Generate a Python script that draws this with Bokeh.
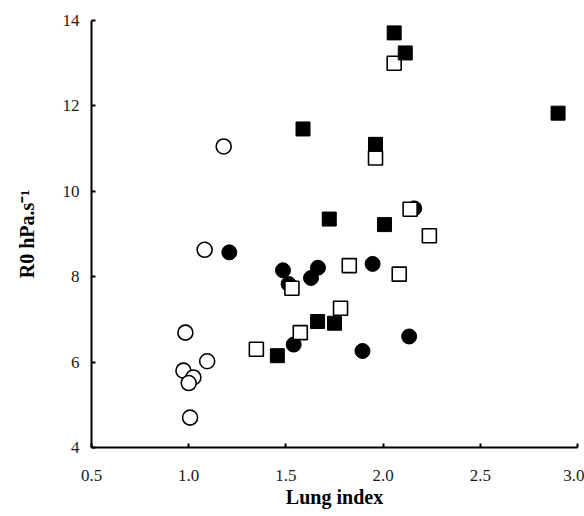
from bokeh.plotting import figure
from bokeh.embed import file_html
from bokeh.resources import INLINE
from bokeh.models import Range1d, FixedTicker

# Data
open_circle_x = [1.082, 1.180, 0.983, 1.095, 0.973, 1.024, 1.000, 1.007]
open_circle_y = [8.63, 11.05, 6.69, 6.02, 5.80, 5.64, 5.51, 4.70]

filled_circle_x = [1.209, 1.485, 1.665, 1.629, 1.514, 1.946, 2.160, 1.540, 1.894, 2.134]
filled_circle_y = [8.57, 8.15, 8.21, 7.97, 7.83, 8.30, 9.60, 6.41, 6.26, 6.60]

open_square_x = [2.057, 1.961, 2.139, 2.238, 1.531, 1.826, 2.083, 1.781, 1.574, 1.348]
open_square_y = [13.00, 10.78, 9.58, 8.96, 7.73, 8.26, 8.06, 7.26, 6.69, 6.30]

filled_square_x = [2.057, 2.114, 1.588, 2.900, 1.961, 1.723, 2.007, 1.663, 1.750, 1.456]
filled_square_y = [13.71, 13.24, 11.46, 11.83, 11.10, 9.35, 9.22, 6.95, 6.91, 6.15]

x_ticks = [0.5, 1.0, 1.5, 2.0, 2.5, 3.0]
x_tick_labels = ["0.5", "1.0", "1.5", "2.0", "2.5", "3.0"]
y_ticks = [4, 6, 8, 10, 12, 14]

x_title = "Lung index"
y_title = "R0 hPa.s\u207b\u00b9"

FONT = "Liberation Serif"

p = figure(width=584, height=516, output_backend="svg", toolbar_location=None,
           x_range=Range1d(0.5, 3.0), y_range=Range1d(4, 14),
           min_border_left=91, min_border_right=7, min_border_top=20, min_border_bottom=69)
p.outline_line_color = None
p.xgrid.visible = False
p.ygrid.visible = False
p.background_fill_color = "white"

p.scatter(open_circle_x, open_circle_y, marker="circle", size=15,
          fill_color="white", line_color="black", line_width=1.6)
p.scatter(filled_circle_x, filled_circle_y, marker="circle", size=15,
          fill_color="black", line_color="black", line_width=1)
p.scatter(open_square_x, open_square_y, marker="square", size=14,
          fill_color="white", line_color="black", line_width=1.6)
p.scatter(filled_square_x, filled_square_y, marker="square", size=14,
          fill_color="black", line_color="black", line_width=1)

for ax in (p.xaxis[0], p.yaxis[0]):
    ax.axis_line_width = 2
    ax.axis_line_color = "black"
    ax.major_tick_in = 4
    ax.major_tick_out = 0
    ax.major_tick_line_width = 2
    ax.minor_tick_line_color = None
    ax.major_label_text_font = FONT
    ax.major_label_text_font_size = "17px"
    ax.major_label_text_color = "#1a1a1a"
    ax.axis_label_text_font = FONT
    ax.axis_label_text_font_style = "bold"
    ax.axis_label_text_color = "black"

p.xaxis[0].ticker = FixedTicker(ticks=x_ticks)
p.xaxis[0].major_label_overrides = {t: l for t, l in zip(x_ticks, x_tick_labels)}
p.xaxis[0].major_label_standoff = 22
p.xaxis[0].axis_label = x_title
p.xaxis[0].axis_label_standoff = 2
p.xaxis[0].axis_label_text_font_size = "20px"

p.yaxis[0].ticker = FixedTicker(ticks=y_ticks)
p.yaxis[0].major_label_standoff = 12
p.yaxis[0].axis_label = y_title
p.yaxis[0].axis_label_standoff = 22
p.yaxis[0].axis_label_text_font_size = "20px"

open("out.html", "w").write(file_html(p, INLINE))
